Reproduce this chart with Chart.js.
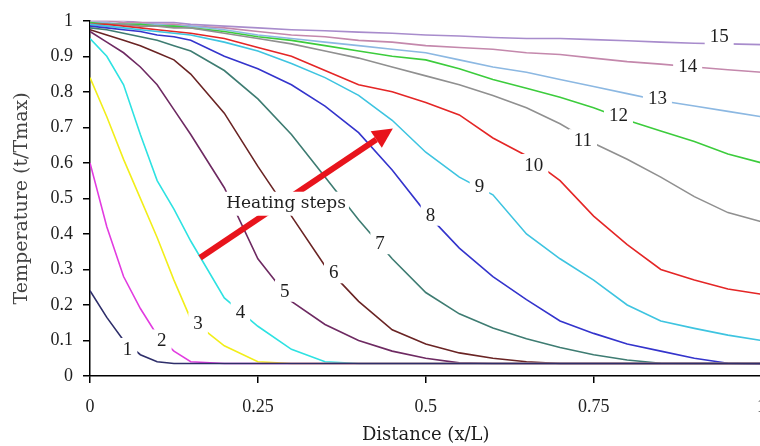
<!DOCTYPE html>
<html>
<head>
<meta charset="utf-8">
<script src="https://cdn.jsdelivr.net/npm/chart.js@4.4.1/dist/chart.umd.min.js"></script>
<style>
  html, body { margin: 0; padding: 0; background: #fff; overflow: hidden; }
  #wrap { width: 760px; height: 446px; overflow: hidden; }
</style>
</head>
<body>
<div id="wrap"><canvas id="chart" width="779" height="446"></canvas></div>
<script>
// distance x/L at which each profile was sampled
const xs = [0, 0.025, 0.05, 0.075, 0.1, 0.125, 0.15, 0.2, 0.25, 0.3, 0.35, 0.4, 0.45, 0.5, 0.55, 0.6, 0.65, 0.7, 0.75, 0.8, 0.85, 0.9, 0.95, 1];

// temperature profiles, one per heating step
const step1 = [0.24, 0.165, 0.1, 0.06, 0.04, 0.035, 0.035, 0.035, 0.035, 0.035, 0.035, 0.035, 0.035, 0.035, 0.035, 0.035, 0.035, 0.035, 0.035, 0.035, 0.035, 0.035, 0.035, 0.035];
const step2 = [0.6, 0.42, 0.28, 0.19, 0.115, 0.07, 0.04, 0.035, 0.035, 0.035, 0.035, 0.035, 0.035, 0.035, 0.035, 0.035, 0.035, 0.035, 0.035, 0.035, 0.035, 0.035, 0.035, 0.035];
const step3 = [0.84, 0.73, 0.61, 0.5, 0.39, 0.27, 0.16, 0.085, 0.04, 0.035, 0.035, 0.035, 0.035, 0.035, 0.035, 0.035, 0.035, 0.035, 0.035, 0.035, 0.035, 0.035, 0.035, 0.035];
const step4 = [0.95, 0.9, 0.82, 0.68, 0.55, 0.47, 0.38, 0.22, 0.14, 0.075, 0.04, 0.035, 0.035, 0.035, 0.035, 0.035, 0.035, 0.035, 0.035, 0.035, 0.035, 0.035, 0.035, 0.035];
const step5 = [0.97, 0.94, 0.91, 0.87, 0.82, 0.75, 0.68, 0.53, 0.33, 0.21, 0.145, 0.1, 0.07, 0.05, 0.037, 0.035, 0.035, 0.035, 0.035, 0.035, 0.035, 0.035, 0.035, 0.035];
const step6 = [0.975, 0.96, 0.945, 0.93, 0.91, 0.89, 0.85, 0.74, 0.59, 0.45, 0.31, 0.21, 0.13, 0.09, 0.065, 0.05, 0.04, 0.035, 0.035, 0.035, 0.035, 0.035, 0.035, 0.035];
const step7 = [0.98, 0.975, 0.965, 0.955, 0.945, 0.93, 0.915, 0.86, 0.78, 0.68, 0.56, 0.44, 0.33, 0.235, 0.175, 0.135, 0.105, 0.08, 0.06, 0.045, 0.036, 0.035, 0.035, 0.035];
const step8 = [0.985, 0.98, 0.975, 0.97, 0.96, 0.955, 0.945, 0.9, 0.865, 0.82, 0.76, 0.685, 0.58, 0.46, 0.36, 0.28, 0.215, 0.155, 0.12, 0.09, 0.07, 0.05, 0.036, 0.033];
const step9 = [0.99, 0.985, 0.98, 0.975, 0.97, 0.965, 0.96, 0.94, 0.915, 0.88, 0.84, 0.79, 0.72, 0.63, 0.56, 0.51, 0.4, 0.33, 0.27, 0.2, 0.155, 0.134, 0.115, 0.1];
const step10 = [0.99, 0.99, 0.985, 0.98, 0.975, 0.97, 0.965, 0.95, 0.925, 0.9, 0.86, 0.82, 0.8, 0.77, 0.735, 0.67, 0.62, 0.55, 0.45, 0.37, 0.3, 0.27, 0.245, 0.23];
const step11 = [0.99, 0.99, 0.99, 0.985, 0.985, 0.98, 0.98, 0.965, 0.95, 0.935, 0.915, 0.895, 0.87, 0.845, 0.82, 0.79, 0.755, 0.71, 0.655, 0.61, 0.56, 0.505, 0.46, 0.434];
const step12 = [0.995, 0.99, 0.99, 0.99, 0.985, 0.985, 0.98, 0.97, 0.955, 0.945, 0.93, 0.915, 0.9, 0.89, 0.865, 0.835, 0.81, 0.785, 0.755, 0.72, 0.69, 0.66, 0.625, 0.6];
const step13 = [0.995, 0.995, 0.99, 0.99, 0.99, 0.985, 0.985, 0.975, 0.96, 0.95, 0.94, 0.93, 0.92, 0.91, 0.89, 0.87, 0.855, 0.835, 0.815, 0.795, 0.775, 0.76, 0.745, 0.73];
const step14 = [1, 1, 0.995, 0.995, 0.99, 0.99, 0.985, 0.98, 0.97, 0.96, 0.955, 0.945, 0.94, 0.93, 0.925, 0.92, 0.91, 0.905, 0.895, 0.885, 0.878, 0.87, 0.862, 0.855];
const step15 = [1, 1, 1, 0.995, 0.995, 0.995, 0.99, 0.985, 0.98, 0.975, 0.972, 0.968, 0.965, 0.96, 0.957, 0.953, 0.95, 0.95, 0.947, 0.944, 0.94, 0.937, 0.935, 0.933];

const steps = [step1, step2, step3, step4, step5, step6, step7, step8, step9, step10, step11, step12, step13, step14, step15];
const stepNames = ['1', '2', '3', '4', '5', '6', '7', '8', '9', '10', '11', '12', '13', '14', '15'];
const colors = ['#2e2e6a', '#e23ce0', '#f2ee1a', '#2ee2e2', '#6e2a62', '#6a2424', '#3e7c72', '#3434cc', '#3ec4e0', '#e42626', '#909090', '#3ccc3c', '#8cb8e2', '#c488ac', '#a88ccc'];

// where each step number sits (x/L, t/Tmax)
const labelX = [0.056, 0.107, 0.161, 0.224, 0.29, 0.363, 0.432, 0.507, 0.58, 0.661, 0.734, 0.787, 0.845, 0.89, 0.937];
const labelY = [0.076, 0.1, 0.148, 0.18, 0.24, 0.292, 0.374, 0.454, 0.535, 0.594, 0.664, 0.734, 0.784, 0.874, 0.958];

const xTicks = [0, 0.25, 0.5, 0.75, 1];
const yTicks = [0, 0.1, 0.2, 0.3, 0.4, 0.5, 0.6, 0.7, 0.8, 0.9, 1];

const noteText = 'Heating steps';
const notePos = [0.292, 0.485];
const arrowFrom = [0.164, 0.333];
const arrowTo = [0.451, 0.697];

const wordFont = "'DejaVu Serif', serif";
const numFont = "'Liberation Serif', 'Times New Roman', serif";
Chart.defaults.color = '#1e1e1e';

const annotate = {
  id: 'annotate',
  afterDatasetsDraw(chart) {
    const { ctx, scales: { x, y } } = chart;
    ctx.save();

    // red arrow
    const ax0 = x.getPixelForValue(arrowFrom[0]), ay0 = y.getPixelForValue(arrowFrom[1]);
    const ax1 = x.getPixelForValue(arrowTo[0]), ay1 = y.getPixelForValue(arrowTo[1]);
    const ang = Math.atan2(ay1 - ay0, ax1 - ax0);
    const headLen = 20, headHalf = 10;
    const bx = ax1 - headLen * Math.cos(ang), by = ay1 - headLen * Math.sin(ang);
    ctx.strokeStyle = '#e8141c';
    ctx.lineWidth = 6;
    ctx.beginPath();
    ctx.moveTo(ax0, ay0);
    ctx.lineTo(bx, by);
    ctx.stroke();
    ctx.fillStyle = '#e8141c';
    ctx.beginPath();
    ctx.moveTo(ax1, ay1);
    ctx.lineTo(bx + headHalf * Math.sin(ang), by - headHalf * Math.cos(ang));
    ctx.lineTo(bx - headHalf * Math.sin(ang), by + headHalf * Math.cos(ang));
    ctx.closePath();
    ctx.fill();

    // step numbers on white boxes
    ctx.font = '19px ' + numFont;
    ctx.textAlign = 'center';
    ctx.textBaseline = 'middle';
    stepNames.forEach((t, i) => {
      const px = x.getPixelForValue(labelX[i]);
      const py = y.getPixelForValue(labelY[i]);
      const w = ctx.measureText(t).width + 10;
      ctx.fillStyle = '#fff';
      ctx.fillRect(px - w / 2, py - 11, w, 22);
      ctx.fillStyle = '#1e1e1e';
      ctx.fillText(t, px, py + 1);
    });

    // heating steps note
    ctx.font = '17px ' + wordFont;
    const nx = x.getPixelForValue(notePos[0]);
    const ny = y.getPixelForValue(notePos[1]);
    const nw = ctx.measureText(noteText).width + 6;
    ctx.fillStyle = '#fff';
    ctx.fillRect(nx - nw / 2, ny - 12, nw, 24);
    ctx.fillStyle = '#1e1e1e';
    ctx.fillText(noteText, nx, ny);

    ctx.restore();
  }
};

const datasets = steps.map((s, i) => ({
  label: stepNames[i],
  data: xs.map((v, j) => ({ x: v, y: s[j] })),
  borderColor: colors[i],
  borderWidth: 1.6,
  pointRadius: 0,
  showLine: true,
  fill: false,
  tension: 0
}));

new Chart(document.getElementById('chart'), {
  type: 'scatter',
  data: { datasets },
  options: {
    responsive: false,
    animation: false,
    layout: { padding: { top: 18, right: 0, bottom: 0, left: 0 } },
    plugins: { legend: { display: false }, tooltip: { enabled: false } },
    scales: {
      x: {
        type: 'linear', min: 0, max: 1,
        afterBuildTicks: s => { s.ticks = xTicks.map(v => ({ value: v })); },
        afterFit: s => { s.height = 70; },
        ticks: { font: { family: numFont, size: 18 }, padding: 13, maxRotation: 0, callback: v => String(v) },
        grid: { drawOnChartArea: false, drawTicks: true, tickLength: 7, color: '#000', lineWidth: 1.5 },
        border: { color: '#000', width: 1.5 },
        title: { display: true, text: 'Distance (x/L)', font: { family: wordFont, size: 18 }, padding: { top: 0, bottom: 0 } }
      },
      y: {
        type: 'linear', min: 0, max: 1,
        afterBuildTicks: s => { s.ticks = yTicks.map(v => ({ value: v })); },
        afterFit: s => { s.width = 90; },
        ticks: { font: { family: numFont, size: 18 }, padding: 10, callback: v => String(v) },
        grid: { drawOnChartArea: false, drawTicks: true, tickLength: 7, color: '#000', lineWidth: 1.5 },
        border: { color: '#000', width: 1.5 },
        title: { display: true, text: 'Temperature (t/Tmax)', color: '#444', font: { family: wordFont, size: 19 }, padding: { top: 11, bottom: 0 } }
      }
    }
  },
  plugins: [annotate]
});
</script>
</body>
</html>
